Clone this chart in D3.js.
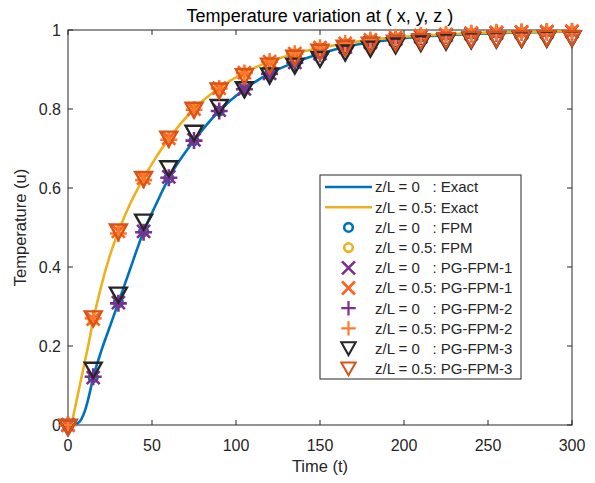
<!DOCTYPE html>
<html>
<head>
<meta charset="utf-8">
<script src="https://cdn.jsdelivr.net/npm/d3@7"></script>
<style>
  body { margin: 0; background: #fff; }
  text { font-family: "Liberation Sans", Arial, Helvetica, sans-serif; fill: #262626; }
</style>
</head>
<body>
<svg id="graph" width="595" height="483"></svg>
<script>
var w = 595, h = 483;
var margin = {left: 68, right: 23, top: 30, bottom: 58};

// exact solutions (dense read-off of the curves)
var exactTime = [0, 2, 4, 6, 8, 10, 12, 15, 20, 25, 30, 37, 45, 52, 60, 75, 90, 105, 120, 135, 150, 165, 180, 195, 210, 225, 240, 255, 270, 285, 300];
var exact0  = [0, 0, 0.001, 0.005, 0.015, 0.035, 0.065, 0.12, 0.19, 0.25, 0.31, 0.395, 0.49, 0.555, 0.625, 0.72, 0.795, 0.85, 0.89, 0.918, 0.94, 0.957, 0.969, 0.977, 0.983, 0.987, 0.99, 0.992, 0.994, 0.995, 0.996];
var exact05 = [0, 0.005, 0.04, 0.08, 0.12, 0.16, 0.2, 0.265, 0.355, 0.43, 0.49, 0.56, 0.625, 0.675, 0.725, 0.80, 0.853, 0.892, 0.92, 0.94, 0.955, 0.966, 0.975, 0.981, 0.986, 0.989, 0.992, 0.994, 0.995, 0.996, 0.997];

// numerical results, every 15 time units
var markTime = [0, 15, 30, 45, 60, 75, 90, 105, 120, 135, 150, 165, 180, 195, 210, 225, 240, 255, 270, 285, 300];
var fpm0    = [0, 0.12, 0.31, 0.49, 0.625, 0.72, 0.795, 0.85, 0.89, 0.918, 0.94, 0.957, 0.969, 0.977, 0.983, 0.987, 0.99, 0.992, 0.994, 0.995, 0.996];
var fpm05   = [0, 0.265, 0.49, 0.625, 0.725, 0.80, 0.853, 0.892, 0.92, 0.94, 0.955, 0.966, 0.975, 0.981, 0.986, 0.989, 0.992, 0.994, 0.995, 0.996, 0.997];
var pg1_0   = [0, 0.12, 0.31, 0.49, 0.628, 0.722, 0.797, 0.851, 0.89, 0.918, 0.94, 0.957, 0.969, 0.977, 0.983, 0.987, 0.99, 0.992, 0.994, 0.995, 0.996];
var pg1_05  = [0, 0.268, 0.49, 0.625, 0.726, 0.80, 0.853, 0.892, 0.92, 0.94, 0.955, 0.966, 0.975, 0.981, 0.986, 0.989, 0.992, 0.994, 0.995, 0.996, 0.997];
var pg2_0   = [0, 0.122, 0.308, 0.488, 0.626, 0.72, 0.795, 0.85, 0.889, 0.917, 0.94, 0.957, 0.969, 0.977, 0.983, 0.987, 0.99, 0.992, 0.994, 0.995, 0.996];
var pg2_05  = [0, 0.27, 0.485, 0.62, 0.722, 0.798, 0.852, 0.891, 0.92, 0.94, 0.955, 0.966, 0.975, 0.981, 0.986, 0.989, 0.992, 0.994, 0.995, 0.996, 0.997];
var pg3_0   = [0, 0.145, 0.335, 0.52, 0.655, 0.745, 0.81, 0.855, 0.89, 0.915, 0.932, 0.948, 0.958, 0.966, 0.972, 0.976, 0.979, 0.981, 0.982, 0.983, 0.984];
var pg3_05  = [0, 0.275, 0.495, 0.628, 0.73, 0.803, 0.852, 0.888, 0.915, 0.935, 0.95, 0.96, 0.968, 0.973, 0.977, 0.98, 0.982, 0.983, 0.984, 0.985, 0.985];

var xTicks = [0, 50, 100, 150, 200, 250, 300];
var yTicks = [0, 0.2, 0.4, 0.6, 0.8, 1];

var legendLabels = [
  "z/L = 0   : Exact", "z/L = 0.5: Exact",
  "z/L = 0   : FPM", "z/L = 0.5: FPM",
  "z/L = 0   : PG-FPM-1", "z/L = 0.5: PG-FPM-1",
  "z/L = 0   : PG-FPM-2", "z/L = 0.5: PG-FPM-2",
  "z/L = 0   : PG-FPM-3", "z/L = 0.5: PG-FPM-3"
];

var axisColor = "#262626";

var x = d3.scaleLinear().domain([0, 300]).range([margin.left, w - margin.right]);
var y = d3.scaleLinear().domain([0, 1]).range([h - margin.bottom, margin.top]);

var svg = d3.select("#graph");

// marker shapes (drawn around 0,0)
function markerPath(type) {
  if (type == "circle") return d3.symbol().type(d3.symbolCircle).size(Math.PI * 4.3 * 4.3)();
  if (type == "x") return "M-6.5,-6.5L6.5,6.5M-6.5,6.5L6.5,-6.5";
  if (type == "plus") return "M-8.5,0L8.5,0M0,-8.5L0,8.5";
  // downward triangle, centroid at the data point
  return "M-8.5,-5L8.5,-5L0,10Z";
}

var series = [
  {name: "exact0",  kind: "line", t: exactTime, v: exact0,  color: "#0072BD"},
  {name: "exact05", kind: "line", t: exactTime, v: exact05, color: "#EDB120"},
  {name: "fpm0",   kind: "circle", t: markTime, v: fpm0,   color: "#0072BD"},
  {name: "fpm05",  kind: "circle", t: markTime, v: fpm05,  color: "#EDB120"},
  {name: "pg1_0",  kind: "x",      t: markTime, v: pg1_0,  color: "#7E2F8E"},
  {name: "pg1_05", kind: "x",      t: markTime, v: pg1_05, color: "#FF5F1F"},
  {name: "pg2_0",  kind: "plus",   t: markTime, v: pg2_0,  color: "#7E2F8E"},
  {name: "pg2_05", kind: "plus",   t: markTime, v: pg2_05, color: "#FF7A2E"},
  {name: "pg3_0",  kind: "tri",    t: markTime, v: pg3_0,  color: "#262626"},
  {name: "pg3_05", kind: "tri",    t: markTime, v: pg3_05, color: "#D95319"}
];

// axes box with inward ticks
var plot = svg.append("g");
plot.append("rect")
  .attr("x", x(0)).attr("y", y(1))
  .attr("width", x(300) - x(0)).attr("height", y(0) - y(1))
  .attr("fill", "none").attr("stroke", axisColor).attr("stroke-width", 1);

var tl = 5;
xTicks.forEach(function(t) {
  plot.append("line").attr("x1", x(t)).attr("x2", x(t)).attr("y1", y(0)).attr("y2", y(0) - tl)
    .attr("stroke", axisColor);
  plot.append("line").attr("x1", x(t)).attr("x2", x(t)).attr("y1", y(1)).attr("y2", y(1) + tl)
    .attr("stroke", axisColor);
  plot.append("text").attr("x", x(t)).attr("y", y(0) + 26)
    .attr("text-anchor", "middle").style("font-size", "16px").text(t);
});
yTicks.forEach(function(v) {
  plot.append("line").attr("x1", x(0)).attr("x2", x(0) + tl).attr("y1", y(v)).attr("y2", y(v))
    .attr("stroke", axisColor);
  plot.append("line").attr("x1", x(300)).attr("x2", x(300) - tl).attr("y1", y(v)).attr("y2", y(v))
    .attr("stroke", axisColor);
  plot.append("text").attr("x", x(0) - 7).attr("y", y(v)).attr("dy", "0.36em")
    .attr("text-anchor", "end").style("font-size", "16px").text(d3.format("~g")(v));
});

// curves and markers
var line = d3.line().curve(d3.curveMonotoneX)
  .x(function(d) { return x(d[0]); })
  .y(function(d) { return y(d[1]); });

series.forEach(function(s) {
  var pts = s.t.map(function(t, i) { return [t, s.v[i]]; });
  if (s.kind == "line") {
    svg.append("path").datum(pts)
      .attr("d", line)
      .attr("fill", "none")
      .attr("stroke", s.color)
      .attr("stroke-width", 2.6);
  } else {
    svg.selectAll("path." + s.name)
      .data(pts)
      .enter()
      .append("path")
      .attr("class", s.name)
      .attr("d", markerPath(s.kind))
      .attr("transform", function(d) { return "translate(" + x(d[0]) + "," + y(d[1]) + ")"; })
      .attr("fill", "none")
      .attr("stroke", s.color)
      .attr("stroke-width", s.kind == "tri" ? 2.4 : 2.6);
  }
});

// title and axis labels
svg.append("text").attr("x", (x(0) + x(300)) / 2).attr("y", 22)
  .attr("text-anchor", "middle").style("font-size", "18px").style("fill", "#000")
  .text("Temperature variation at ( x, y, z )");
svg.append("text").attr("x", (x(0) + x(300)) / 2).attr("y", 472)
  .attr("text-anchor", "middle").style("font-size", "16.5px")
  .text("Time (t)");
svg.append("text")
  .attr("transform", "translate(26," + ((y(0) + y(1)) / 2) + ") rotate(-90)")
  .attr("text-anchor", "middle").style("font-size", "16.5px")
  .text("Temperature (u)");

// legend
var lg = svg.append("g");
lg.append("rect").attr("x", 320).attr("y", 175).attr("width", 201).attr("height", 204)
  .attr("fill", "#fff").attr("stroke", axisColor).attr("stroke-width", 1);
series.forEach(function(s, i) {
  var cy = 187 + i * 20.2;
  if (s.kind == "line") {
    lg.append("line").attr("x1", 325).attr("x2", 372).attr("y1", cy).attr("y2", cy)
      .attr("stroke", s.color).attr("stroke-width", 2.6);
  } else {
    lg.append("path").attr("d", markerPath(s.kind))
      .attr("transform", "translate(348.5," + (s.kind == "tri" ? cy - 2 : cy) + ")" + (s.kind == "tri" || s.kind == "plus" ? " scale(0.85)" : ""))
      .attr("fill", "none").attr("stroke", s.color)
      .attr("stroke-width", s.kind == "tri" ? 2.4 : 2.6);
  }
  lg.append("text").attr("x", 375).attr("y", cy).attr("dy", "0.36em")
    .style("font-size", "15px").style("white-space", "pre").attr("xml:space", "preserve")
    .text(legendLabels[i]);
});
</script>
</body>
</html>
